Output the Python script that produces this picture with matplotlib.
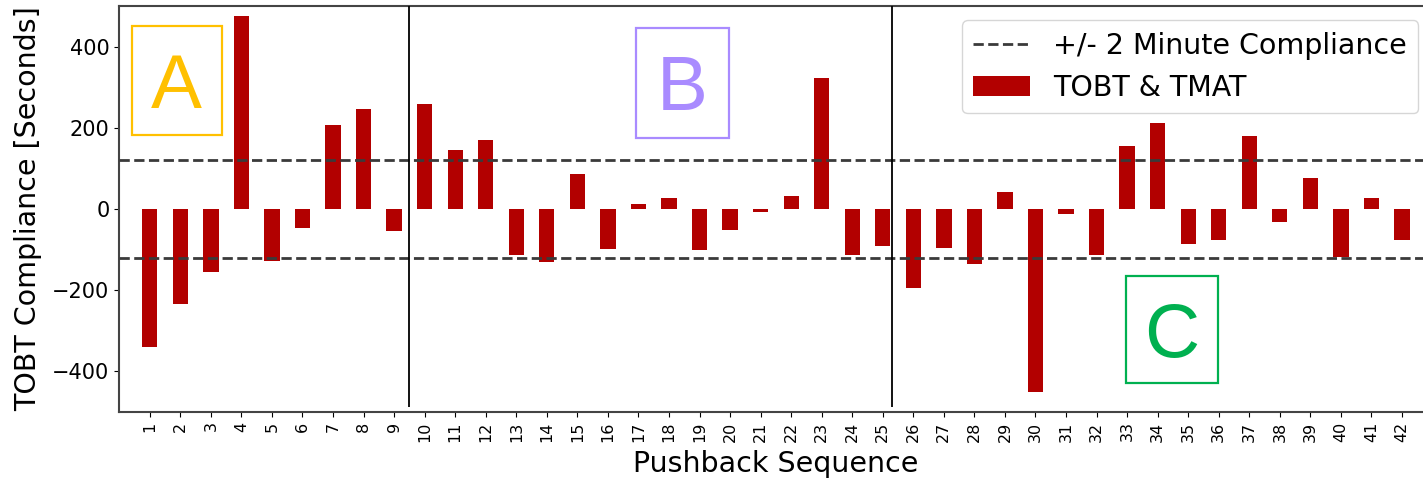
import numpy as np
import matplotlib
matplotlib.use('Agg')
import matplotlib.pyplot as plt
from matplotlib.patches import Rectangle

# pushback sequence numbers and TOBT compliance (seconds)
sequence = list(range(1, 43))
compliance = [-340, -235, -156, 476, -129, -48, 207, 247, -55,
              258, 145, 170, -113, -132, 86, -100, 13, 26, -102, -53, -8, 31, 322, -113, -92,
              -195, -96, -136, 41, -452, -12, -113, 155, 212, -86, -76, 179, -32, 75, -119, 26, -76]
compliance_limit = 120          # +/- 2 minutes
group_splits = [9.5, 25.3]      # boundaries between groups A / B / C
group_labels = ['A', 'B', 'C']

fig = plt.figure(figsize=(14.23, 4.82), dpi=100)
ax = fig.add_axes([0.0838, 0.1459, 0.9229, 0.8417])

ax.bar(sequence, compliance, width=0.5, color='#B20000', label='TOBT & TMAT', zorder=2)
ax.axhline(compliance_limit, color='#3a3a3a', ls='--', lw=2, label='+/- 2 Minute Compliance', zorder=3)
ax.axhline(-compliance_limit, color='#3a3a3a', ls='--', lw=2, zorder=3)
ax.vlines(group_splits, -488, 500, color='k', lw=1.3, zorder=3)

ax.set_xlim(0, 43)
ax.set_ylim(-500, 500)
ax.set_xticks(sequence)
ax.set_xticklabels([str(s) for s in sequence], rotation=90, fontsize=11.5)
ax.set_yticks([-400, -200, 0, 200, 400])
ax.tick_params(axis='y', labelsize=15)

ax.set_xlabel('Pushback Sequence', fontsize=20.5)
ax.set_ylabel('TOBT Compliance [Seconds]', fontsize=20.5)
ax.xaxis.set_label_coords(0.5, -0.094)
ax.yaxis.set_label_coords(-0.059, 0.5)

for sp in ax.spines.values():
    sp.set_color('#444444')
    sp.set_linewidth(1.5)

# group annotation boxes (axes fraction)
boxes = {'A': (0.0094, 0.682, 0.0688, 0.2687, '#FFC000'),
         'B': (0.3932, 0.6754, 0.0713, 0.2711, '#A98BFF'),
         'C': (0.7665, 0.070, 0.0698, 0.2652, '#00B050')}
for g in group_labels:
    x0, y0, w, h, c = boxes[g]
    ax.add_patch(Rectangle((x0, y0), w, h, transform=ax.transAxes, fill=False,
                           edgecolor=c, lw=1.6, zorder=4))
    ax.text(x0 + w / 2, y0 + h / 2, g, transform=ax.transAxes, ha='center', va='center_baseline',
            fontsize=55, color=c, family='Liberation Sans', zorder=4)

handles, labels = ax.get_legend_handles_labels()
order = [labels.index('+/- 2 Minute Compliance'), labels.index('TOBT & TMAT')]
ax.legend([handles[i] for i in order], [labels[i] for i in order],
          loc='upper right', fontsize=20.5)

fig.savefig('out.png', dpi=100)
